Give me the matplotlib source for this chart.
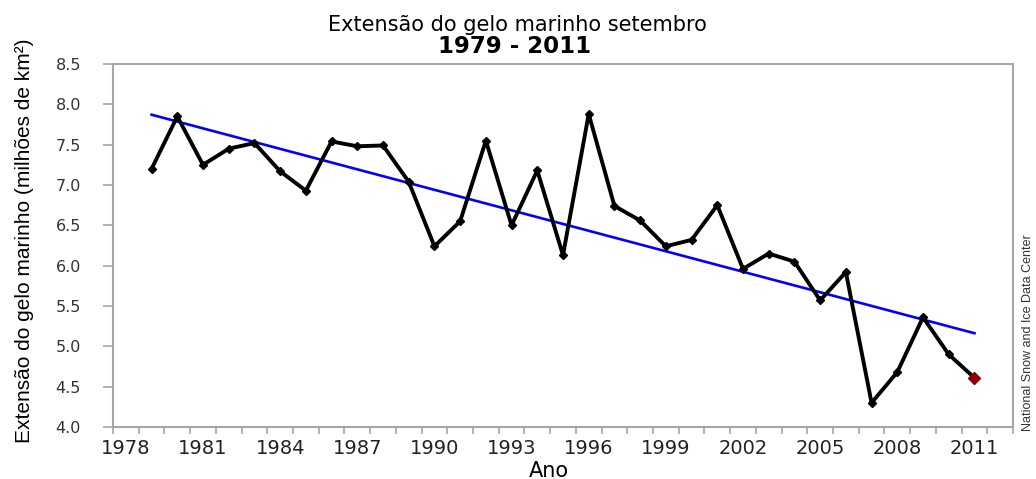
import numpy as np
import matplotlib
matplotlib.use("Agg")
import matplotlib.pyplot as plt
from matplotlib.ticker import FixedLocator, FormatStrFormatter

# DATA
years = list(range(1979, 2012))
extent = [7.20, 7.85, 7.25, 7.45, 7.52, 7.17, 6.93, 7.54, 7.48, 7.49,
          7.04, 6.24, 6.55, 7.55, 6.50, 7.18, 6.13, 7.88, 6.74, 6.56,
          6.24, 6.32, 6.75, 5.96, 6.15, 6.05, 5.57, 5.92, 4.30, 4.68,
          5.36, 4.90, 4.61]
xtick_years = list(range(1978, 2012, 3))
yticks = [4.0, 4.5, 5.0, 5.5, 6.0, 6.5, 7.0, 7.5, 8.0, 8.5]

ARIAL = "Liberation Sans"
SPINE = "#a6a6a6"

# FIGURE
fig = plt.figure(figsize=(10.36, 4.79), dpi=100)
ax = fig.add_axes([113 / 1036, 52 / 479, 900 / 1036, 363 / 479])

# TREND LINE (least squares)
coef = np.polyfit(years, extent, 1)
trend = np.polyval(coef, years)
ax.plot(years, trend, color="#0000ff", lw=1.9, zorder=2)

# DATA LINE
ax.plot(years, extent, color="black", lw=2.8, marker="D",
        markersize=4.5, zorder=3)
ax.plot(years[-1], extent[-1], marker="D", color="#8b0000",
        markersize=6.5, ls="none", zorder=4)

# AXES
ax.set_xlim(1977.5, 2012.5)
ax.set_ylim(4.0, 8.5)

ax.xaxis.set_major_locator(FixedLocator(xtick_years))
ax.xaxis.set_minor_locator(FixedLocator(np.arange(1977.5, 2013, 1.0)))
ax.tick_params(axis="x", which="major", length=0, pad=9,
               labelsize=14, labelcolor="#222222")
ax.tick_params(axis="x", which="minor", length=5, width=1.2,
               color=SPINE, direction="out")

ax.yaxis.set_major_locator(FixedLocator(yticks))
ax.yaxis.set_major_formatter(FormatStrFormatter("%.1f"))
ax.tick_params(axis="y", length=7, width=1.2, color=SPINE,
               direction="out", pad=16, labelsize=11.5,
               labelcolor="#333333")

for side in ["left", "bottom", "top", "right"]:
    ax.spines[side].set_color(SPINE)
    ax.spines[side].set_linewidth(1.5)

# TEXTS
fig.text(517 / 1036, 1 - 31 / 479, "Extensão do gelo marinho setembro",
         ha="center", va="baseline", fontsize=15)
fig.text(515 / 1036, 1 - 53 / 479, "1979 - 2011",
         ha="center", va="baseline", fontsize=16.5, fontweight="bold")
fig.text(549 / 1036, 1 - 471 / 479, "Ano",
         ha="center", va="center", fontsize=15)
fig.text(25 / 1036, 1 - 241 / 479,
         "Extensão do gelo marinho (milhões de km²)",
         ha="center", va="center", rotation=90, fontsize=15,
         family=ARIAL)
fig.text(1028 / 1036, 1 - 333 / 479, "National Snow and Ice Data Center",
         ha="center", va="center", rotation=90, fontsize=9,
         family=ARIAL, color="#333333")

fig.savefig("out.png", dpi=100)
